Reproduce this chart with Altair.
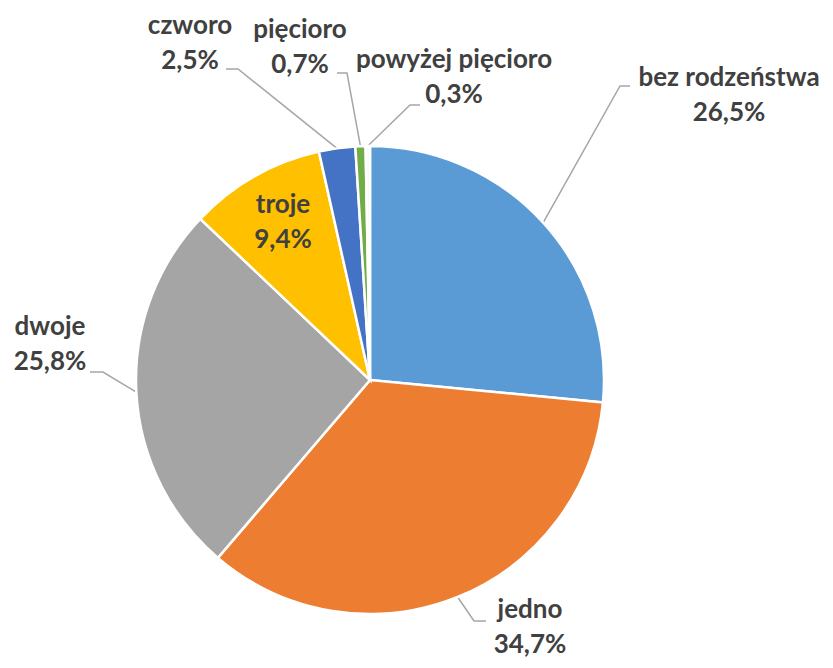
import math
import altair as alt
import pandas as pd

# ---- data ----
categories = ["bez rodzeństwa", "jedno", "dwoje", "troje", "czworo", "pięcioro", "powyżej pięcioro"]
values = [26.5, 34.7, 25.8, 9.4, 2.5, 0.7, 0.3]
colors = ["#5B9BD5", "#ED7D31", "#A5A5A5", "#FFC000", "#4472C4", "#70AD47", "#FAFAFA"]

# ---- layout (chart pixel coords, page minus 8px margin) ----
CX, CY, R = 362, 372, 234
label_center = {
    "bez rodzeństwa": (721, 70),
    "jedno": (522, 602),
    "dwoje": (42, 319),
    "troje": (275, 197),
    "czworo": (182, 18),
    "pięcioro": (292, 22),
    "powyżej pięcioro": (446, 52),
}
leader_path = {
    "bez rodzeństwa": [(612, 78), (622, 78)],
    "jedno": [(466, 613), (478, 613)],
    "dwoje": [(95, 364), (82, 364)],
    "czworo": [(230, 61), (218, 61)],
    "pięcioro": [(339, 65), (329, 65)],
    "powyżej pięcioro": [(402, 97), (412, 97)],
}

total = sum(values)
df = pd.DataFrame({
    "cat": categories,
    "value": values,
    "idx": list(range(len(categories))),
    "label": [f"{c}\n" + f"{v:.1f}".replace(".", ",") + "%" for c, v in zip(categories, values)],
})

# mid angles of slices (clockwise from 12 o'clock)
cum = 0.0
mids = {}
for c, v in zip(categories, values):
    mids[c] = (cum + v / 2) / total * 2 * math.pi
    cum += v

lines = []
for c, pts in leader_path.items():
    a = mids[c]
    start = (CX + R * math.sin(a), CY - R * math.cos(a))
    for i, p in enumerate([start] + pts):
        lines.append({"cat": c, "o": i, "x": p[0], "y": p[1]})
lines_df = pd.DataFrame(lines)

text_df = df.copy()
text_df["tx"] = [label_center[c][0] for c in categories]
text_df["ty"] = [label_center[c][1] for c in categories]

arcs = alt.Chart(df).mark_arc(outerRadius=R, stroke="white", strokeWidth=2.5).encode(
    theta=alt.Theta("value:Q", stack=True, scale=alt.Scale(domain=[0, total])),
    color=alt.Color("cat:N", scale=alt.Scale(domain=categories, range=colors), legend=None),
    order=alt.Order("idx:Q"),
    x=alt.value(CX),
    y=alt.value(CY),
)

leaders = alt.Chart(lines_df).mark_line(color="#A6A6A6", strokeWidth=1.5).encode(
    x=alt.X("x:Q", scale=None, axis=None),
    y=alt.Y("y:Q", scale=None, axis=None),
    detail="cat:N",
    order="o:Q",
)

texts = alt.Chart(text_df).mark_text(
    lineBreak="\n", lineHeight=35, align="center", baseline="middle",
    font="Lato", fontWeight="bold", fontSize=26, color="#404040",
).encode(
    x=alt.X("tx:Q", scale=None, axis=None),
    y=alt.Y("ty:Q", scale=None, axis=None),
    text="label:N",
)

chart = alt.layer(leaders, arcs, texts).properties(
    width=817, height=652, padding=0, autosize=alt.AutoSizeParams(type="none"),
).configure_view(stroke=None)

chart.save("out.html", embed_options={"renderer": "svg", "actions": False})
